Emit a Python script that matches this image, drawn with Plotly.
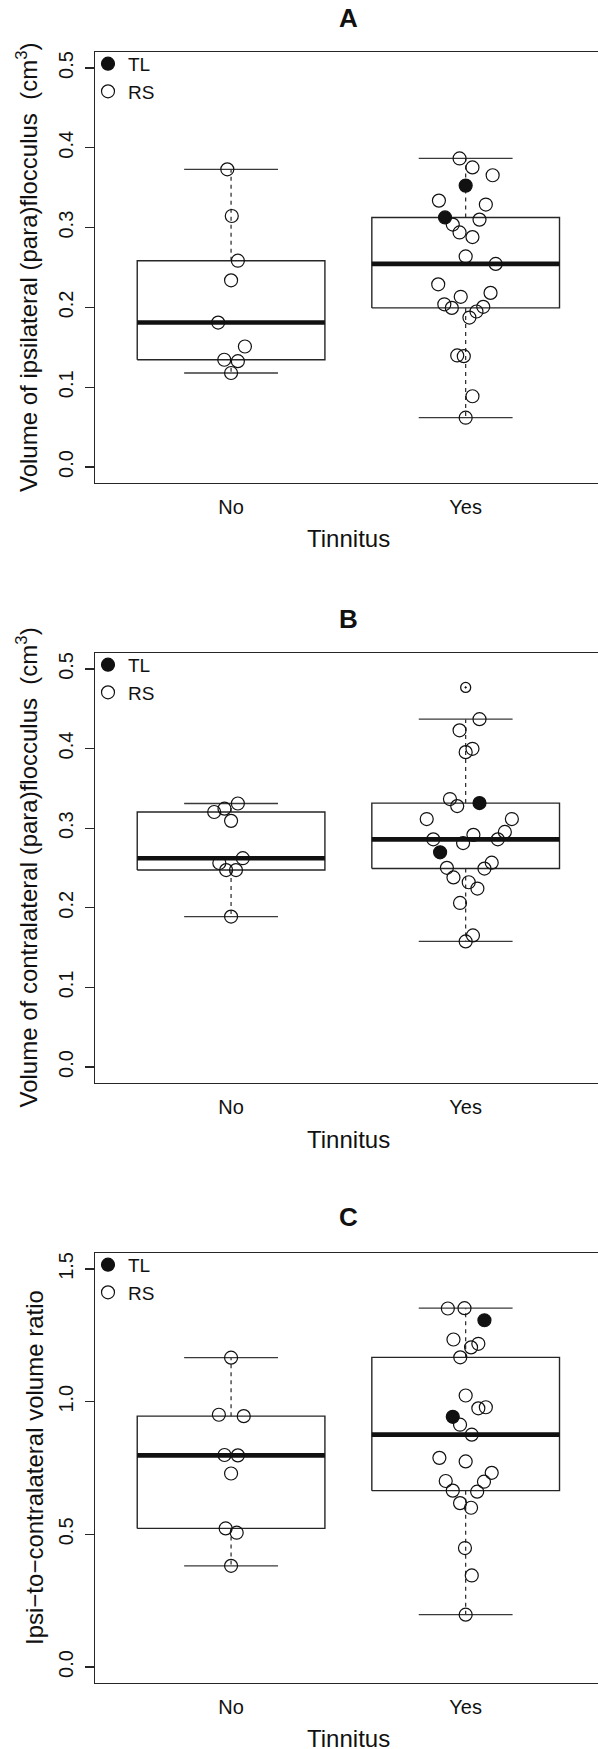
import numpy as np
import plotly.graph_objects as go

# ---------------- data ----------------
categories = ["No", "Yes"]
cat_pos = [1, 2]

# Panel A: ipsilateral volume (cm^3)
a_no_val = [0.373, 0.3145, 0.2585, 0.2339, 0.181, 0.151, 0.1344, 0.1326, 0.1178]
a_no_jit = [-0.016, 0.003, 0.029, 0.0, -0.055, 0.059, -0.029, 0.029, 0.0]
a_no_grp = ["RS", "RS", "RS", "RS", "RS", "RS", "RS", "RS", "RS"]
a_yes_val = [0.3866, 0.3754, 0.3656, 0.3526, 0.3338, 0.3289, 0.3127, 0.3100, 0.3038,
             0.2939, 0.2881, 0.2639, 0.2545, 0.2289, 0.2182, 0.2133, 0.2039, 0.1994,
             0.2007, 0.1949, 0.1873, 0.1398, 0.1389, 0.0887, 0.0618]
a_yes_jit = [-0.026, 0.029, 0.115, 0.0, -0.114, 0.086, -0.088, 0.059, -0.055,
             -0.026, 0.029, 0.0, 0.128, -0.117, 0.106, -0.021, -0.091, -0.059,
             0.075, 0.046, 0.016, -0.036, -0.008, 0.029, 0.0]
a_yes_grp = ["RS", "RS", "RS", "TL", "RS", "RS", "TL", "RS", "RS",
             "RS", "RS", "RS", "RS", "RS", "RS", "RS", "RS", "RS",
             "RS", "RS", "RS", "RS", "RS", "RS", "RS"]

# Panel B: contralateral volume (cm^3)
b_no_val = [0.331, 0.3245, 0.3203, 0.3092, 0.2623, 0.2563, 0.2474, 0.2474, 0.189]
b_no_jit = [0.029, -0.028, -0.072, 0.0, 0.050, -0.050, -0.021, 0.021, 0.0]
b_no_grp = ["RS", "RS", "RS", "RS", "RS", "RS", "RS", "RS", "RS"]
b_yes_val = [0.4768, 0.4369, 0.4229, 0.3997, 0.3955, 0.3366, 0.3315, 0.3278, 0.3115,
             0.3115, 0.2916, 0.2953, 0.2860, 0.2860, 0.2813, 0.2697, 0.2567, 0.2502,
             0.2493, 0.2382, 0.2321, 0.2242, 0.2061, 0.1653, 0.1578]
b_yes_jit = [0.0, 0.059, -0.026, 0.029, 0.0, -0.067, 0.059, -0.036, -0.166,
             0.197, 0.033, 0.167, -0.138, 0.137, -0.011, -0.109, 0.111, -0.080,
             0.080, -0.052, 0.013, 0.050, -0.024, 0.031, 0.0]
b_yes_grp = ["RS", "RS", "RS", "RS", "RS", "RS", "TL", "RS", "RS",
             "RS", "RS", "RS", "RS", "RS", "RS", "TL", "RS", "RS",
             "RS", "RS", "RS", "RS", "RS", "RS", "RS"]

# Panel C: ipsi-to-contralateral ratio
c_no_val = [1.1656, 0.9507, 0.9454, 0.799, 0.7976, 0.7292, 0.5224, 0.5062, 0.3814]
c_no_jit = [0.0, -0.052, 0.054, -0.028, 0.029, 0.0, -0.023, 0.024, 0.0]
c_no_grp = ["RS", "RS", "RS", "RS", "RS", "RS", "RS", "RS", "RS"]
c_yes_val = [1.3509, 1.3522, 1.3066, 1.2341, 1.2180, 1.2045, 1.1669, 1.0232, 0.9749,
             0.9789, 0.9427, 0.9131, 0.8756, 0.7882, 0.7748, 0.7318, 0.7010, 0.6983,
             0.6647, 0.6607, 0.6177, 0.6003, 0.4485, 0.3451, 0.1974]
c_yes_jit = [-0.076, -0.005, 0.080, -0.052, 0.054, 0.023, -0.023, 0.0, 0.054,
             0.086, -0.055, -0.024, 0.026, -0.112, 0.0, 0.111, -0.085, 0.078,
             -0.055, 0.049, -0.024, 0.023, -0.003, 0.026, 0.0]
c_yes_grp = ["RS", "RS", "TL", "RS", "RS", "RS", "RS", "RS", "RS",
             "RS", "TL", "RS", "RS", "RS", "RS", "RS", "RS", "RS",
             "RS", "RS", "RS", "RS", "RS", "RS", "RS"]

panel_titles = ["A", "B", "C"]
y_titles = ["Volume of ipsilateral (para)flocculus \u00a0(cm<sup>3</sup>)",
            "Volume of contralateral (para)flocculus \u00a0(cm<sup>3</sup>)",
            "Ipsi\u2212to\u2212contralateral volume ratio"]
x_title = "Tinnitus"
a_ticks = [0.0, 0.1, 0.2, 0.3, 0.4, 0.5]
b_ticks = [0.0, 0.1, 0.2, 0.3, 0.4, 0.5]
c_ticks = [0.0, 0.5, 1.0, 1.5]
a_ylim = [0.0, 0.5]
b_ylim = [0.0, 0.5]
c_ylim = [0.0, 1.5]

# ---------------- helpers ----------------
W, H = 598, 1749
FONT = "Liberation Sans, Arial, Helvetica, sans-serif"
LC = "#262626"


def px_x(p):
    return p / W


def px_y(p):
    return 1 - p / H


def fivenum(v):
    s = sorted(v)
    n = len(s)
    n4 = np.floor((n + 3) / 2) / 2
    d = [1, n4, (n + 1) / 2, n + 1 - n4, n]
    return [0.5 * (s[int(np.floor(i)) - 1] + s[int(np.ceil(i)) - 1]) for i in d]


def box_stats(v, coef=1.5):
    f = fivenum(v)
    iqr = f[3] - f[1]
    lo, hi = f[1] - coef * iqr, f[3] + coef * iqr
    inside = [x for x in v if lo <= x <= hi]
    out = [x for x in v if x < lo or x > hi]
    return min(inside), f[1], f[2], f[3], max(inside), out


panels = [
    dict(groups=[(a_no_val, a_no_jit, a_no_grp), (a_yes_val, a_yes_jit, a_yes_grp)],
         ticks=a_ticks, ylim=a_ylim, top=52, bottom=483, off=0, ytx=26.5),
    dict(groups=[(b_no_val, b_no_jit, b_no_grp), (b_yes_val, b_yes_jit, b_yes_grp)],
         ticks=b_ticks, ylim=b_ylim, top=653, bottom=1083, off=600.5, ytx=26.5),
    dict(groups=[(c_no_val, c_no_jit, c_no_grp), (c_yes_val, c_yes_jit, c_yes_grp)],
         ticks=c_ticks, ylim=c_ylim, top=1253, bottom=1683, off=1199, ytx=34.0),
]

fig = go.Figure()
annotations = []
BOXW = 0.4
CAPW = 0.2
left_px = 95.0
unit_px = 234.6
x_range = [0.42, 0.42 + (W - left_px) / unit_px]
plot_cx = left_px + (1 - 0.42) * unit_px + 0.5 * unit_px

for i, p in enumerate(panels):
    k = "" if i == 0 else str(i + 1)
    xa, ya = "x" + k, "y" + k
    leg = "legend" + k
    tl_x, tl_y, rs_x, rs_y = [], [], [], []
    for c, (vals, jit, grp) in zip(cat_pos, p["groups"]):
        lo, q1, med, q3, hi, out = box_stats(vals)
        # box
        fig.add_trace(go.Scatter(x=[c - BOXW, c + BOXW, c + BOXW, c - BOXW, c - BOXW],
                                 y=[q1, q1, q3, q3, q1], mode="lines",
                                 line=dict(color=LC, width=1.4), showlegend=False,
                                 hoverinfo="skip", xaxis=xa, yaxis=ya))
        # whiskers
        for a, b in [(q3, hi), (q1, lo)]:
            fig.add_trace(go.Scatter(x=[c, c], y=[a, b], mode="lines",
                                     line=dict(color=LC, width=1.2, dash="4px,4px"),
                                     showlegend=False, hoverinfo="skip", xaxis=xa, yaxis=ya))
            fig.add_trace(go.Scatter(x=[c - CAPW, c + CAPW], y=[b, b], mode="lines",
                                     line=dict(color="#3a3a3a", width=1.3),
                                     showlegend=False, hoverinfo="skip", xaxis=xa, yaxis=ya))
        # median
        fig.add_trace(go.Scatter(x=[c - BOXW, c + BOXW], y=[med, med], mode="lines",
                                 line=dict(color="#111111", width=4.6), showlegend=False,
                                 hoverinfo="skip", xaxis=xa, yaxis=ya))
        # outliers
        if out:
            fig.add_trace(go.Scatter(x=[c] * len(out), y=out, mode="markers",
                                     marker=dict(symbol="circle-open-dot", size=10, color="#111111",
                                                 line=dict(width=1.3, color="#111111")),
                                     showlegend=False, hoverinfo="skip", xaxis=xa, yaxis=ya))
        for v, j, g in zip(vals, jit, grp):
            if v in out:
                continue
            if g == "TL":
                tl_x.append(c + j)
                tl_y.append(v)
            else:
                rs_x.append(c + j)
                rs_y.append(v)
    fig.add_trace(go.Scatter(x=tl_x, y=tl_y, mode="markers", name="TL",
                             marker=dict(symbol="circle", size=13, color="#111111",
                                         line=dict(width=1.2, color="#111111")),
                             legend=leg, xaxis=xa, yaxis=ya))
    fig.add_trace(go.Scatter(x=rs_x, y=rs_y, mode="markers", name="RS",
                             marker=dict(symbol="circle-open", size=13, color="#111111",
                                         line=dict(width=1.2, color="#111111")),
                             legend=leg, xaxis=xa, yaxis=ya))

    span = p["ylim"][1] - p["ylim"][0]
    yr = [p["ylim"][0] - 0.04 * span, p["ylim"][1] + 0.04 * span]
    dom = [px_y(p["bottom"]), px_y(p["top"])]
    fig.update_layout(**{
        "xaxis" + k: dict(domain=[px_x(left_px), 1.0], range=x_range, anchor=ya,
                          tickvals=cat_pos, ticktext=categories, ticks="",
                          ticklabelstandoff=6,
                          tickfont=dict(family=FONT, size=20, color="#111111"),
                          showline=True, linecolor=LC, linewidth=1.3, mirror=True,
                          showgrid=False, zeroline=False, fixedrange=True),
        "yaxis" + k: dict(domain=dom, range=yr, anchor=xa,
                          tickvals=p["ticks"], tickformat=".1f", ticks="outside",
                          ticklen=9, tickwidth=1.3, tickcolor=LC, tickangle=-90,
                          ticklabelstandoff=4,
                          tickfont=dict(family=FONT, size=20, color="#111111"),
                          showline=True, linecolor=LC, linewidth=1.3, mirror=False,
                          showgrid=False, zeroline=False, fixedrange=True),
        leg: dict(x=px_x(88), xanchor="left", y=px_y(p["top"] - 7.2), yanchor="top",
                  bgcolor="rgba(0,0,0,0)", borderwidth=0,
                  font=dict(family=FONT, size=19, color="#111111"),
                  itemclick=False, itemdoubleclick=False),
    })
    off = p["off"]
    annotations.append(dict(text="<b>" + panel_titles[i] + "</b>", x=px_x(plot_cx), y=px_y(off + 18),
                            xref="paper", yref="paper", showarrow=False, xanchor="center",
                            yanchor="middle", font=dict(family=FONT, size=26, color="#111111")))
    annotations.append(dict(text=x_title, x=px_x(plot_cx), y=px_y(off + 539),
                            xref="paper", yref="paper", showarrow=False, xanchor="center",
                            yanchor="middle", font=dict(family=FONT, size=24, color="#111111")))
    annotations.append(dict(text=y_titles[i], x=px_x(p["ytx"]),
                            y=px_y((p["top"] + p["bottom"]) / 2), textangle=-90,
                            xref="paper", yref="paper", showarrow=False, xanchor="center",
                            yanchor="middle", font=dict(family=FONT, size=24, color="#111111")))

fig.update_layout(width=W, height=H, margin=dict(l=0, r=0, t=0, b=0),
                  paper_bgcolor="white", plot_bgcolor="white",
                  annotations=annotations, showlegend=True,
                  font=dict(family=FONT, color="#111111"))

fig.write_html("out.html",
               config={"displayModeBar": False, "staticPlot": True},
               post_script="document.body.style.margin='0';"
                           "document.body.style.overflow='hidden';"
                           "document.documentElement.style.overflow='hidden';")
